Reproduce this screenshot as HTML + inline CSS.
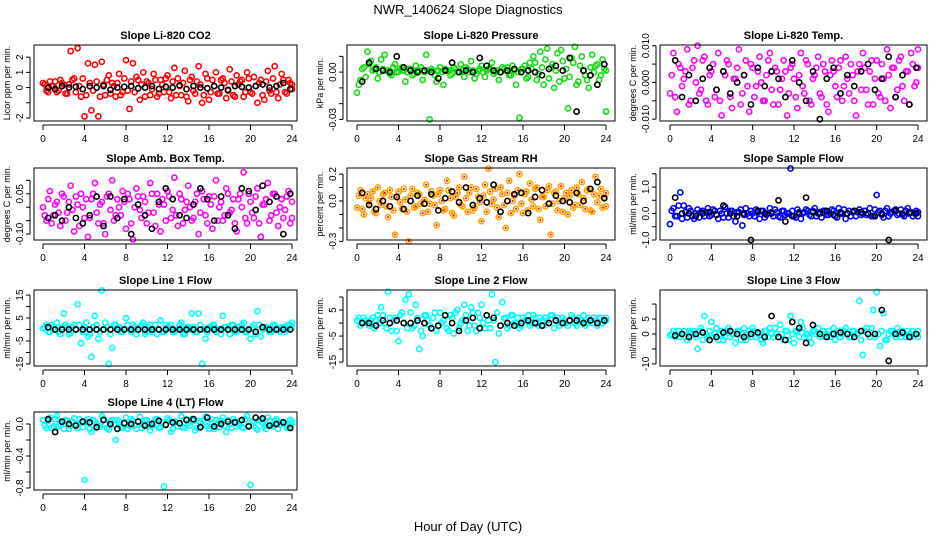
<!DOCTYPE html>
<html><head><meta charset="utf-8"><style>
html,body{margin:0;padding:0;background:#fff;}
svg{display:block;font-family:"Liberation Sans",Arial,sans-serif;}
</style></head><body>
<svg id="chart" width="936" height="540" viewBox="0 0 936 540" xmlns="http://www.w3.org/2000/svg">
<rect width="936" height="540" fill="#fff"/>
<text x="468" y="14" text-anchor="middle" font-size="13">NWR_140624  Slope Diagnostics</text>
<text x="468" y="531" text-anchor="middle" font-size="13">Hour of Day (UTC)</text>
</svg>
<script>
// ---- data (colored series: 73 values evenly over 0..24 h; band series offset by half a step; black: 36 values from 0.5 h every 2/3 h)
const xTicks=[0,4,8,12,16,20,24];
const c1=[0.3,-0.2,0.4,0.1,-0.3,0.5,0.2,-0.4,2.4,0.6,2.6,-0.6,-1.9,1.6,-1.5,1.5,-1.9,1.7,-0.5,0.8,0.3,-0.6,0.9,-0.3,1.8,-1.4,1.6,0.7,-0.8,1.0,0.4,-0.5,0.9,-0.6,0.5,-0.3,0.8,-0.7,1.3,0.6,-0.5,1.1,-0.9,0.7,-0.4,1.4,-1.0,0.9,-0.8,0.5,1.0,-0.4,0.6,-0.7,1.2,-0.5,0.8,0.4,-0.6,1.0,-0.3,0.7,-1.0,0.5,-0.8,1.1,-0.4,1.4,-0.7,0.9,-0.3,0.5,0.2];
const d1=[0.2,-0.3,0.1,0.4,-0.2,0.3,-0.4,0.2,0.5,-0.3,0.1,0.6,-0.5,0.3,-0.2,0.4,-0.6,0.2,0.5,-0.4,0.1,0.3,-0.5,0.6,-0.2,0.4,-0.3,0.5,0.2,-0.6,0.3,-0.1,0.5,-0.4,0.2,0.6,-0.3,0.4,-0.5,0.1,0.3,-0.6,0.5,-0.2,0.4,0.2,-0.5,0.6,-0.3,0.1,-0.4,0.5,0.3,-0.2,0.4,-0.6,0.2,0.5,-0.3,0.6,-0.4,0.1,0.3,-0.5,0.4,-0.2,0.6,-0.3,0.2,0.5,-0.4,0.3,-0.1];
const k1=[0.0,-0.1,0.1,0.0,0.05,-0.1,0.1,0.0,0.1,-0.15,0.0,0.05,0.1,-0.05,0.0,0.1,-0.1,0.05,0.0,0.15,-0.1,0.1,0.0,-0.05,0.1,0.0,-0.15,0.1,0.05,0.0,0.1,0.2,0.0,0.1,0.3,-0.1];
const c2=[-0.013,-0.005,0.003,0.013,0.007,0.002,-0.004,0.008,0.011,0.001,-0.002,0.005,0.0,0.003,-0.006,0.002,-0.002,0.004,0.001,-0.005,0.011,-0.030,0.001,-0.006,0.003,-0.008,0.001,-0.002,0.003,0.0,0.005,-0.003,0.002,0.007,-0.004,0.001,0.004,-0.003,0.002,0.006,0.0,-0.005,0.003,0.001,-0.002,0.004,-0.008,-0.029,0.002,-0.004,0.006,0.010,-0.005,0.013,-0.008,0.015,0.003,-0.010,0.012,0.014,-0.004,-0.023,0.009,0.016,-0.006,0.010,-0.002,-0.010,0.011,0.004,-0.005,0.008,-0.025];
const d2=[-0.008,0.002,-0.003,0.005,0.001,0.003,0.0,0.002,0.001,-0.001,0.003,0.0,0.002,0.001,0.0,0.002,-0.001,0.001,0.003,0.0,0.001,0.002,-0.002,0.001,0.0,0.002,0.001,-0.001,0.002,0.0,0.001,0.003,0.0,0.001,-0.001,0.002,0.0,0.001,0.002,-0.001,0.001,0.0,0.002,0.003,-0.002,0.001,0.0,0.002,0.004,-0.003,0.002,0.006,-0.001,0.003,0.008,-0.004,0.005,0.001,-0.006,0.007,0.002,-0.003,0.006,-0.008,0.004,0.001,-0.005,0.003,0.000,0.005,-0.002,0.002,0.001];
const k2=[-0.006,0.006,0.002,0.001,0.0,0.010,0.003,0.001,0.000,0.001,0.0,-0.004,0.001,0.006,0.0,0.001,0.0,0.009,0.004,0.001,0.0,0.001,0.002,0.0,0.001,0.0,-0.002,0.002,0.004,0.001,0.009,-0.025,0.001,-0.002,-0.008,0.005];
const c3=[-0.003,0.008,-0.008,0.004,0.001,0.009,-0.005,0.006,0.010,-0.002,0.007,-0.006,0.003,-0.004,0.008,-0.009,0.002,0.005,-0.007,0.001,0.009,-0.003,0.006,-0.008,0.004,-0.001,0.007,-0.005,0.002,0.008,-0.006,0.003,-0.002,0.006,-0.009,0.004,0.001,-0.007,0.008,-0.003,0.005,-0.006,0.002,0.007,-0.004,0.003,-0.008,0.006,-0.001,0.004,-0.005,0.007,-0.003,0.002,-0.009,0.005,0.008,-0.002,0.003,-0.006,0.006,-0.004,0.001,0.009,-0.007,0.004,-0.002,0.007,-0.005,0.003,0.008,-0.001,0.009];
const d3=[0.002,-0.004,0.005,-0.001,0.003,-0.006,0.004,0.000,-0.003,0.006,-0.005,0.002,0.005,-0.002,-0.005,0.003,0.006,-0.004,0.001,0.004,-0.006,0.002,-0.001,0.005,-0.004,0.003,0.000,-0.005,0.006,-0.002,0.004,-0.006,0.001,0.003,-0.003,0.005,-0.004,0.002,-0.001,0.006,-0.005,0.001,0.004,-0.003,0.005,-0.006,0.002,0.003,-0.004,0.006,-0.001,0.001,0.005,-0.005,0.003,-0.002,0.004,-0.006,0.006,0.001,-0.003,0.005,-0.005,0.002,0.004,-0.004,0.006,-0.001,0.003,-0.006,0.005,0.000,0.004];
const k3=[0.006,-0.004,0.002,-0.005,0.001,0.004,-0.002,0.003,-0.003,0.000,0.002,-0.006,0.004,-0.001,0.003,0.001,-0.004,0.006,0.000,-0.005,0.003,-0.010,0.001,0.004,-0.003,0.002,-0.001,0.003,0.005,-0.002,0.001,0.007,-0.004,0.002,-0.006,0.004];
const c4=[0.0,-0.05,0.06,-0.03,0.02,-0.07,0.04,-0.02,0.08,-0.09,0.01,0.05,-0.04,-0.11,0.03,0.09,-0.06,0.02,-0.10,0.05,0.10,-0.03,0.0,0.06,-0.08,0.03,-0.12,0.07,-0.01,0.04,-0.06,0.09,-0.02,0.05,-0.09,0.01,0.06,-0.04,0.11,-0.07,0.03,-0.01,0.08,-0.05,0.02,-0.10,0.06,-0.03,0.04,-0.08,0.10,0.0,-0.05,0.07,-0.02,0.03,-0.09,0.05,0.13,-0.06,0.02,-0.04,0.07,-0.11,0.01,0.09,-0.03,0.05,-0.07,0.03,-0.01,0.06,-0.04];
const d4=[-0.03,0.03,-0.06,0.01,-0.02,0.05,-0.05,0.02,-0.01,0.04,-0.07,0.0,0.03,-0.04,0.05,-0.02,0.01,-0.06,0.04,-0.01,-0.05,0.03,-0.03,0.02,0.05,-0.06,0.0,0.04,-0.04,0.02,-0.02,0.05,-0.07,0.01,0.03,-0.05,0.04,-0.01,-0.03,0.05,-0.06,0.02,0.0,-0.04,0.05,-0.02,0.03,-0.06,0.01,0.04,-0.05,0.02,-0.03,0.05,-0.01,-0.06,0.03,0.0,-0.04,0.05,-0.02,0.04,-0.06,0.01,0.03,-0.05,0.05,-0.02,0.0,-0.04,0.04,-0.06,0.02];
const k4=[-0.04,-0.03,-0.05,0.0,-0.04,-0.06,-0.03,0.04,-0.07,0.04,-0.04,0.03,-0.10,0.01,-0.03,-0.08,0.02,0.07,0.03,-0.03,-0.04,0.01,0.07,0.03,-0.05,0.04,-0.03,-0.08,0.07,0.06,-0.01,0.08,0.02,0.04,-0.10,0.05];
const c5=[-0.05,0.08,-0.10,0.05,0.02,-0.08,0.10,-0.03,0.06,-0.12,0.03,-0.25,0.07,-0.06,0.01,-0.30,0.09,-0.04,0.05,-0.09,0.12,-0.02,0.04,-0.18,0.08,-0.07,0.15,0.02,-0.11,0.06,-0.03,0.18,-0.08,0.10,-0.05,0.03,-0.15,0.12,0.24,-0.02,0.09,-0.12,0.05,-0.20,0.15,0.0,-0.06,0.20,-0.09,0.07,0.13,-0.04,0.10,-0.14,0.03,0.08,-0.25,0.06,-0.07,0.11,0.02,-0.10,0.08,-0.03,0.05,0.14,-0.06,0.09,-0.08,0.18,0.04,-0.05,0.06];
const d5=[0.04,-0.06,0.02,-0.02,0.07,-0.09,0.0,0.05,-0.04,0.08,-0.07,0.03,-0.01,0.09,-0.08,0.04,-0.05,0.06,-0.02,0.01,-0.08,0.07,-0.03,0.05,0.0,-0.06,0.08,-0.09,0.03,0.10,-0.04,0.02,0.06,-0.07,0.09,-0.01,0.04,-0.08,0.07,0.01,-0.05,0.10,-0.03,0.06,-0.09,0.04,0.08,-0.02,0.05,-0.07,0.01,0.09,-0.06,0.03,-0.04,0.11,-0.02,0.07,0.0,-0.08,0.06,0.04,-0.05,0.10,-0.03,0.02,0.08,-0.07,0.05,-0.01,0.09,0.03,-0.04];
const k5=[0.06,-0.03,-0.06,0.0,-0.04,0.03,-0.06,0.0,0.04,-0.02,0.05,-0.07,0.02,0.07,-0.01,0.10,-0.03,0.02,-0.01,0.12,-0.08,0.0,0.05,0.06,-0.09,0.03,0.08,-0.02,0.04,0.0,-0.01,0.06,0.0,0.09,0.14,0.02];
const c6=[-0.4,0.2,-0.1,0.8,0.3,-0.15,0.1,-0.2,0.15,0.05,-0.1,0.2,-0.05,0.1,-0.2,0.0,0.25,-0.15,0.1,-0.3,0.05,-0.45,0.2,-0.1,0.0,0.15,-0.2,0.1,-0.05,0.2,-0.1,0.05,-0.15,0.1,0.0,1.7,-0.1,0.15,-0.2,0.05,0.1,-0.1,0.2,0.0,-0.15,0.1,-0.05,0.15,-0.1,0.2,0.0,-0.2,0.1,0.05,-0.1,0.15,0.0,-0.05,0.2,-0.1,0.7,0.1,-0.15,0.2,0.0,0.1,-0.05,0.15,-0.1,0.2,0.05,0.0,-0.1];
const d6=[0.1,-0.1,0.3,-0.2,0.05,0.2,-0.1,0.0,-0.15,0.1,0.05,-0.1,0.15,-0.05,0.1,-0.15,0.0,0.1,-0.1,0.05,0.15,-0.05,0.0,0.1,-0.1,0.05,0.1,-0.15,0.0,0.05,0.15,-0.1,0.1,-0.05,0.0,0.1,-0.15,0.05,0.0,0.15,-0.05,0.1,-0.1,0.05,0.1,-0.05,0.0,0.1,-0.15,0.05,0.15,0.0,-0.1,0.1,0.05,-0.05,0.1,0.0,-0.1,0.15,0.05,-0.05,0.1,-0.1,0.05,0.15,0.0,-0.05,0.1,0.0,-0.1,0.1,0.05];
const k6=[0.6,0.0,0.0,-0.1,0.0,0.05,-0.05,0.3,0.0,-0.1,0.0,-1.0,0.1,0.0,0.0,0.5,-0.3,-0.1,0.0,0.6,0.05,0.0,0.1,-0.05,0.0,0.0,0.1,0.05,0.0,-0.1,0.0,-1.0,0.1,0.0,0.05,0.0];
const c7=[0.5,2,-1,1,3,-2,7,1,-1.5,2,11,-6,1,-3,-12,6,-4,17,3,-15,-8,2,1,-1,5,0,2,-2,1,3,-1,2,0,-2,4,-1,1,2,-1,0,3,-2,1,7,-1,7,-15,-4,1,2,-1,0,6,1,-2,2,-1,0,3,-1,-4,2,8,-3,1,0,-1,2,0,1,-1,2,3];
const d7=[1,-1,2,0,-1,1,2,-2,1,0,2,-1,3,-2,1,2,-1,0,1,-2,2,1,-1,0,2,-1,1,0,2,-2,1,-1,2,0,-1,2,1,-1,0,2,-2,1,0,1,-1,2,0,-1,1,2,0,-2,1,0,2,-1,1,2,-1,0,1,-2,2,0,1,-1,2,0,-1,1,0,2,1];
const k7=[1,0,0,0,0,0,0,0,0,0,0,0,0,0,0,0,0,0,0,0,0,0,0,0,0,0,0,0,0,0,-1,1,0,0,0,0];
const c8=[1,-1,2,0,1,-2,3,6,0,12,-3,2,-7,4,9,11,-2,7,-10,-5,3,-1,2,-3,4,1,-2,3,-4,5,0,7,-3,6,-1,4,7,-2,1,11,-15,-4,8,2,-1,3,0,-2,2,1,-1,3,0,2,-1,1,3,-2,2,0,1,-1,3,0,2,1,-1,2,0,1,2,0,2];
const d8=[2,0,1,-1,2,1,0,3,-2,2,1,-3,3,0,-2,4,-1,2,-3,3,1,-2,4,-1,0,3,-3,2,4,-2,1,3,-1,4,-3,2,0,3,-2,1,4,-1,2,-2,3,0,2,-1,1,3,0,2,-1,1,2,0,3,1,-1,2,0,1,2,-1,1,3,0,1,2,-1,2,1,1];
const k8=[0,0,-1,1,0,1,0,0,1,0,-2,-1,3,0,-3,1,2,-2,3,2,-1,0,-1,0,1,0,-1,0,1,0,1,1,0,1,0,1];
const c9=[-0.5,1,0,-1,1,-2,0.5,1,-5,2,6,-1,4,0,-2,1,-1,2,0,-3,1,0,-2,1,2,-1,0,-3,1,2,-1,0,3,-2,1,6,-3,1,4,-1,0,-3,1,2,0,-1,1,0,-2,1,0,2,-1,1,0,11,-7,2,-1,8,14,-4,7,-2,1,0,2,-1,0,1,-1,0,1];
const d9=[0,-1,1,0,-1,1,0,-1,1,-2,0,1,-1,2,0,-2,1,-1,0,1,-2,2,0,-1,1,0,-2,1,-1,0,2,-1,0,1,-2,0,1,-1,2,0,-1,1,0,-1,1,0,-1,2,0,-1,1,0,-1,1,0,-2,1,0,2,-1,0,1,-2,0,1,-1,0,1,-1,0,1,0,-1];
const k9=[-0.5,0,-1,0,0.5,-2,-1,0.5,1,0,-1,0,0.5,-1,6,-1,-2,4,2,-3,3,0,-1,0,0.5,0,-1,1,0,0,8,-9,0,0.5,-1,0];
const c10=[0.05,-0.05,0.08,-0.03,0.1,0.0,-0.06,0.04,-0.02,0.07,-0.05,0.02,-0.7,0.06,-0.1,0.03,-0.04,0.1,0.0,-0.07,0.05,-0.2,0.03,-0.05,0.08,-0.02,0.04,-0.06,0.09,-0.01,0.05,-0.08,0.02,0.06,-0.04,-0.78,0.07,-0.1,0.03,-0.03,0.1,-0.05,0.01,0.06,-0.08,0.04,-0.02,0.09,-0.06,0.02,0.05,-0.04,0.08,-0.1,0.0,0.06,-0.03,0.04,-0.05,0.1,-0.76,0.02,-0.07,0.05,-0.03,0.08,-0.01,0.04,-0.06,0.02,0.0,-0.04,0.03];
const d10=[-0.02,0.04,-0.05,0.06,-0.03,0.02,0.05,-0.06,0.03,-0.01,0.06,-0.04,0.02,-0.06,0.05,0.0,-0.03,0.06,-0.05,0.03,-0.01,0.05,-0.04,0.02,-0.06,0.06,-0.02,0.03,-0.05,0.04,0.0,-0.03,0.06,-0.05,0.02,-0.01,0.05,-0.06,0.03,0.01,-0.04,0.06,-0.02,0.04,-0.05,0.02,0.05,-0.03,0.06,-0.06,0.01,0.04,-0.02,0.05,-0.05,0.03,0.0,-0.04,0.06,-0.02,0.03,-0.05,0.05,0.01,-0.06,0.04,-0.03,0.06,-0.01,0.02,-0.05,0.05,0.0];
const k10=[0.06,-0.1,0.03,0.0,-0.02,0.03,0.02,-0.04,0.05,0.0,-0.06,0.01,0.0,0.03,-0.02,0.0,0.04,-0.01,0.02,0.01,0.05,0.06,-0.04,0.08,-0.03,0.0,0.03,0.02,0.05,-0.03,0.08,0.07,-0.02,0.0,0.02,-0.05];
const titles=["Slope Li-820 CO2","Slope Li-820 Pressure","Slope Li-820 Temp.","Slope Amb. Box Temp.","Slope Gas Stream RH","Slope Sample Flow","Slope Line 1 Flow","Slope Line 2 Flow","Slope Line 3 Flow","Slope Line 4 (LT) Flow"];
const yTitles=["Licor ppm per min.","kPa per min.","degrees C per min.","degrees C per min.","percent per min.","ml/min per min.","ml/min per min.","ml/min per min.","ml/min per min.","ml/min per min."];
const yTicks=[[-2,-1,0,1,2],[-0.03,-0.02,-0.01,0,0.01],[-0.01,-0.005,0,0.005,0.01],[-0.1,-0.05,0,0.05,0.1],[-0.3,-0.2,-0.1,0,0.1,0.2],[-1,-0.5,0,0.5,1,1.5],[-15,-10,-5,0,5,10,15],[-15,-10,-5,0,5,10],[-10,-5,0,5,10],[-0.8,-0.6,-0.4,-0.2,0]];
const yLabels=[["-2","","0","1","2"],["-0.03","","","0.00",""],["-0.010","","0.000","","0.010"],["-0.10","","","0.05",""],["-0.3","","","0.0","","0.2"],["-1.0","","0.0","","1.0",""],["-15","","-5","","5","","15"],["-15","","-5","","5",""],["-10","","0","5",""],["-0.8","","-0.4","","0.0"]];
const yLims=[[-2.2,2.8],[-0.031,0.0172],[-0.0105,0.0102],[-0.122,0.146],[-0.29,0.245],[-1.0,1.72],[-15.9,17.2],[-16.5,12.7],[-10.7,14.7],[-0.825,0.15]];
const colored=[c1,c2,c3,c4,c5,c6,c7,c8,c9,c10];
const band=[d1,d2,d3,d4,d5,d6,d7,d8,d9,d10];
const black=[k1,k2,k3,k4,k5,k6,k7,k8,k9,k10];
const colors=["#ff0000","#11dd11","#ff00ff","#ff00ff","#ffa500","#0000ff","#00ffff","#00ffff","#00ffff","#00ffff"];

// ---- layout
const cols=[{l:34,r:297,x0:43,x24:292},{l:347,r:615,x0:357,x24:606},{l:660,r:927,x0:670,x24:918}];
const rows=[{t:45,b:121},{t:168,b:240},{t:290,b:366},{t:412,b:490}];
const NS="http://www.w3.org/2000/svg";
const svg=document.getElementById('chart');
function mk(tag,attrs,parent){const e=document.createElementNS(NS,tag);for(const k in attrs)e.setAttribute(k,attrs[k]);(parent||svg).appendChild(e);return e;}
const cStep=24/72, kStart=0.5, kStep=2/3;

for(let p=0;p<10;p++){
  const col=cols[p%3], row=rows[Math.floor(p/3)];
  const g=mk('g',{});
  
  
  const X=h=>col.x0+(col.x24-col.x0)*h/24;
  const [lo,hi]=yLims[p];
  const Y=v=>row.b-(v-lo)/(hi-lo)*(row.b-row.t);
  const cx=(col.l+col.r)/2;
  const t=mk('text',{x:cx,y:row.t-6,'text-anchor':'middle','font-size':11,'font-weight':'bold'},g);
  t.textContent=titles[p];
  
  
  const yt=mk('text',{x:0,y:0,'text-anchor':'middle','font-size':9,transform:`translate(${col.l-24},${(row.t+row.b)/2}) rotate(-90)`},g);
  yt.textContent=yTitles[p];
  
  
  const cg=mk('g',{fill:'none',stroke:colors[p],'stroke-width':1.6},g);
  
  
  const drawPt=(h,v)=>{
    const c=mk('circle',{cx:X(h),cy:Y(v),r:2.6},cg);
    
    
    if(p===4){const d=mk('circle',{cx:X(h),cy:Y(v),r:1,fill:'#ff0000',stroke:'none'},cg);
      
      }
  };
  band[p].forEach((v,i)=>drawPt(Math.min(24,i*cStep+cStep/2),v));
  colored[p].forEach((v,i)=>drawPt(i*cStep,v));
  const bg=mk('g',{fill:'none',stroke:'#000','stroke-width':1.6},g);
  
  
  black[p].forEach((v,i)=>{
    const c=mk('circle',{cx:X(kStart+i*kStep),cy:Y(v),r:2.6},bg);
    
    
  });
  const box=mk('rect',{x:col.l,y:row.t,width:col.r-col.l,height:row.b-row.t,fill:'none',stroke:'#000','stroke-width':1},g);
  
  
  mk('line',{x1:X(0),x2:X(24),y1:row.b+4,y2:row.b+4,stroke:'#000'},g);
  xTicks.forEach(h=>{
    mk('line',{x1:X(h),x2:X(h),y1:row.b+4,y2:row.b+9,stroke:'#000'},g);
    const l=mk('text',{x:X(h),y:row.b+21,'text-anchor':'middle','font-size':10},g);
    l.textContent=h;
    
    
  });
  const ax=col.l-4;
  const tv=yTicks[p];
  mk('line',{x1:ax,x2:ax,y1:Y(tv[0]),y2:Y(tv[tv.length-1]),stroke:'#000'},g);
  tv.forEach((v,i)=>{
    mk('line',{x1:ax-4,x2:ax,y1:Y(v),y2:Y(v),stroke:'#000'},g);
    if(yLabels[p][i]){
      const l=mk('text',{x:0,y:0,'text-anchor':'middle','font-size':10,transform:`translate(${ax-7},${Y(v)}) rotate(-90)`},g);
      l.textContent=yLabels[p][i];
      
      
    }
  });
}
</script>
</body></html>
